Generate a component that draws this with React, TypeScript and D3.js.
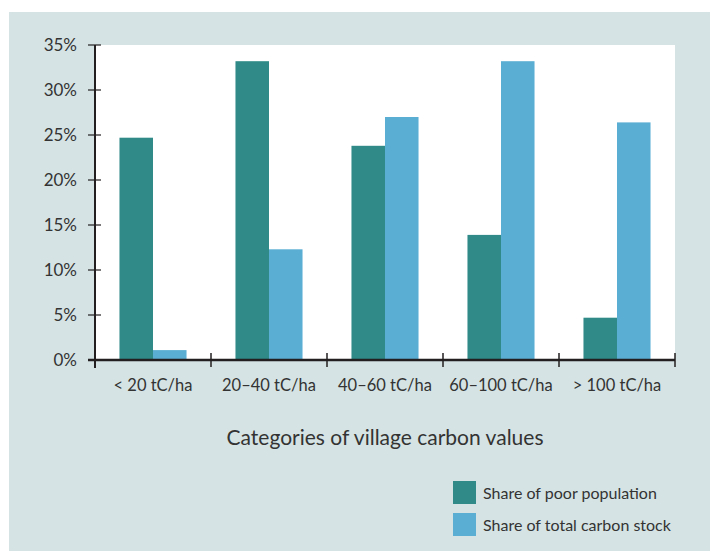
import React from 'react';
import * as d3 from 'd3';

const categories = ['< 20 tC/ha', '20–40 tC/ha', '40–60 tC/ha', '60–100 tC/ha', '> 100 tC/ha'];
const seriesNames = ['Share of poor population', 'Share of total carbon stock'];
const poorShare = [24.7, 33.2, 23.8, 13.9, 4.7];
const carbonShare = [1.1, 12.3, 27.0, 33.2, 26.4];
const yTicks = [0, 5, 10, 15, 20, 25, 30, 35];
const colors = ['#2f8a88', '#5aaed3'];

const W = 710;
const H = 551;
const font = 'Lato, "Open Sans", sans-serif';
const ink = '#231f20';
const textCol = '#333333';

export default function App() {
  const left = 95, right = 675, top = 45, bottom = 360;
  const x0 = d3.scaleBand().domain(categories).range([left, right]);
  const x1 = d3.scaleBand().domain(seriesNames).range([0, x0.bandwidth()]).paddingOuter(0.73);
  const y = d3.scaleLinear().domain([0, 35]).range([bottom, top]);
  const values = [poorShare, carbonShare];
  const edges = categories.map(c => x0(c)!).concat([right]);

  return (
    <div style={{ position: 'absolute', left: 0, top: 0 }}>
      <svg width={W} height={H} style={{ display: 'block', background: '#fff' }} fontFamily={font}>
        <rect x={9} y={12} width={W - 9} height={H - 12} fill="#d5e3e4" />
        <rect x={left} y={top} width={right - left} height={bottom - top} fill="#fff" />

        {values.map((vals, si) =>
          categories.map((c, i) => (
            <rect key={si + '-' + i}
              x={x0(c)! + x1(seriesNames[si])!}
              y={y(vals[i])}
              width={x1.bandwidth()}
              height={bottom - y(vals[i])}
              fill={colors[si]} />
          ))
        )}

        {/* y axis */}
        <line x1={left} x2={left} y1={top} y2={bottom + 8} stroke={ink} strokeWidth={2} />
        {yTicks.map(t => (
          <g key={t}>
            <line x1={left - 7} x2={left + 6} y1={y(t)} y2={y(t)} stroke={ink} strokeWidth={1.2} />
            <text x={77} y={y(t)} dy="0.35em" textAnchor="end" fontSize={17} fill={textCol}>{t}%</text>
          </g>
        ))}

        {/* x axis */}
        <line x1={left - 7} x2={right} y1={bottom} y2={bottom} stroke={ink} strokeWidth={2.5} />
        {edges.slice(1).map((e, i) => (
          <line key={i} x1={e} x2={e} y1={bottom - 7} y2={bottom + 7} stroke={ink} strokeWidth={1.5} />
        ))}
        {categories.map(c => (
          <text key={c} x={x0(c)! + x0.bandwidth() / 2} y={391} textAnchor="middle" fontSize={16.5} fill={textCol}>{c}</text>
        ))}

        <text x={385} y={445} textAnchor="middle" fontSize={21} fill={textCol}>Categories of village carbon values</text>

        {seriesNames.map((s, i) => (
          <g key={s} transform={`translate(453, ${481 + i * 32})`}>
            <rect width={23} height={23} fill={colors[i]} />
            <text x={30} y={12} dy="0.35em" fontSize={16} fill={textCol}>{s}</text>
          </g>
        ))}
      </svg>
    </div>
  );
}
